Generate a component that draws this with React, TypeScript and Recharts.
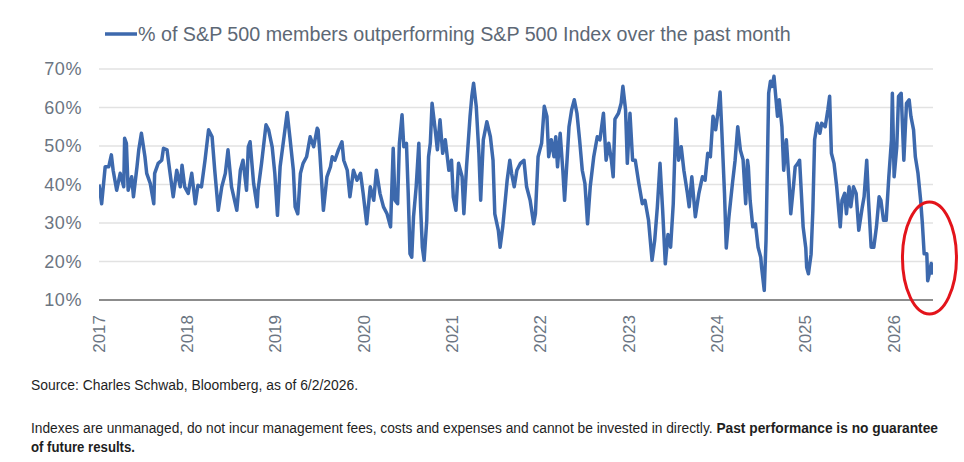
import React from 'react';
import { LineChart, Line, XAxis, YAxis, CartesianGrid, ReferenceDot } from 'recharts';

const SERIES_NAME = '% of S&P 500 members outperforming S&P 500 Index over the past month';
const yTicks = [10, 20, 30, 40, 50, 60, 70];
const xTicks = [2017, 2018, 2019, 2020, 2021, 2022, 2023, 2024, 2025, 2026];
const SOURCE = 'Source: Charles Schwab, Bloomberg, as of 6/2/2026.';
const NOTE = 'Indexes are unmanaged, do not incur management fees, costs and expenses and cannot be invested in directly. ';
const NOTE_BOLD_1 = 'Past performance is no guarantee';
const NOTE_BOLD_2 = 'of future results.';

// decimal-year dates
const dates = [
  2017.00, 2017.03, 2017.07, 2017.11, 2017.14, 2017.16, 2017.20, 2017.24, 2017.28, 2017.29, 2017.31, 2017.33, 2017.37, 2017.39,
  2017.43, 2017.45, 2017.48, 2017.52, 2017.54, 2017.58, 2017.62, 2017.63, 2017.67, 2017.71, 2017.73, 2017.77, 2017.80, 2017.84,
  2017.88, 2017.92, 2017.94, 2017.97, 2018.01, 2018.05, 2018.09, 2018.12, 2018.16, 2018.20, 2018.24, 2018.28, 2018.31, 2018.35,
  2018.39, 2018.43, 2018.46, 2018.50, 2018.56, 2018.60, 2018.63, 2018.67, 2018.69, 2018.71, 2018.75, 2018.79, 2018.80, 2018.84,
  2018.89, 2018.92, 2018.96, 2018.99, 2019.02, 2019.05, 2019.09, 2019.13, 2019.16, 2019.20, 2019.22, 2019.25, 2019.28, 2019.31,
  2019.35, 2019.39, 2019.43, 2019.47, 2019.48, 2019.50, 2019.54, 2019.58, 2019.62, 2019.64, 2019.67, 2019.71, 2019.75, 2019.77,
  2019.81, 2019.84, 2019.88, 2019.92, 2019.96, 2019.99, 2020.03, 2020.07, 2020.11, 2020.14, 2020.18, 2020.22, 2020.26, 2020.30,
  2020.33, 2020.35, 2020.38, 2020.40, 2020.43, 2020.45, 2020.48, 2020.50, 2020.52, 2020.54, 2020.56, 2020.59, 2020.62, 2020.64,
  2020.66, 2020.68, 2020.71, 2020.73, 2020.75, 2020.77, 2020.81, 2020.83, 2020.86, 2020.89, 2020.92, 2020.96, 2020.99, 2021.01,
  2021.04, 2021.07, 2021.11, 2021.13, 2021.16, 2021.20, 2021.22, 2021.24, 2021.27, 2021.30, 2021.32, 2021.35, 2021.39, 2021.43,
  2021.46, 2021.48, 2021.52, 2021.54, 2021.57, 2021.62, 2021.65, 2021.67, 2021.70, 2021.73, 2021.77, 2021.81, 2021.84, 2021.88,
  2021.92, 2021.94, 2021.97, 2021.99, 2022.01, 2022.04, 2022.07, 2022.09, 2022.12, 2022.15, 2022.17, 2022.19, 2022.22, 2022.25,
  2022.27, 2022.30, 2022.32, 2022.35, 2022.38, 2022.41, 2022.44, 2022.47, 2022.50, 2022.53, 2022.56, 2022.60, 2022.64, 2022.67,
  2022.71, 2022.74, 2022.77, 2022.80, 2022.82, 2022.84, 2022.88, 2022.91, 2022.93, 2022.96, 2022.98, 2023.01, 2023.04, 2023.07,
  2023.11, 2023.15, 2023.18, 2023.22, 2023.26, 2023.29, 2023.32, 2023.35, 2023.38, 2023.41, 2023.44, 2023.47, 2023.50, 2023.53,
  2023.56, 2023.59, 2023.62, 2023.66, 2023.68, 2023.71, 2023.75, 2023.79, 2023.83, 2023.86, 2023.89, 2023.92, 2023.95, 2023.98,
  2024.01, 2024.03, 2024.05, 2024.08, 2024.10, 2024.13, 2024.17, 2024.20, 2024.23, 2024.26, 2024.29, 2024.32, 2024.34, 2024.35,
  2024.37, 2024.40, 2024.43, 2024.46, 2024.49, 2024.50, 2024.53, 2024.55, 2024.57, 2024.58, 2024.60, 2024.62, 2024.64, 2024.66,
  2024.68, 2024.70, 2024.73, 2024.75, 2024.78, 2024.81, 2024.83, 2024.86, 2024.88, 2024.91, 2024.93, 2024.95, 2024.97, 2025.00,
  2025.01, 2025.03, 2025.06, 2025.08, 2025.10, 2025.13, 2025.16, 2025.18, 2025.22, 2025.25, 2025.27, 2025.29, 2025.32, 2025.35,
  2025.39, 2025.41, 2025.44, 2025.46, 2025.49, 2025.51, 2025.54, 2025.57, 2025.60, 2025.64, 2025.66, 2025.69, 2025.71, 2025.74,
  2025.77, 2025.80, 2025.83, 2025.85, 2025.88, 2025.91, 2025.94, 2025.97, 2025.98, 2026.00, 2026.03, 2026.05, 2026.08, 2026.11,
  2026.14, 2026.17, 2026.19, 2026.22, 2026.24, 2026.27, 2026.30, 2026.32, 2026.34, 2026.37, 2026.38, 2026.40, 2026.42, 2026.43,
  2026.44,
];

// % of members outperforming
const values = [
  40.0, 35.0, 44.6, 44.6, 47.7, 43.7, 38.5, 42.9, 39.4, 52.0, 50.7, 38.5, 42.0, 36.8,
  44.6, 49.0, 53.3, 47.2, 42.9, 40.3, 35.0, 42.9, 45.5, 46.3, 49.4, 49.0, 43.7, 36.8,
  43.7, 39.4, 45.0, 39.4, 37.7, 42.9, 35.0, 39.8, 39.4, 46.3, 54.2, 52.4, 43.7, 33.3,
  39.4, 42.9, 49.0, 39.4, 33.3, 43.7, 46.3, 38.5, 49.8, 51.1, 40.3, 34.2, 38.5, 45.5,
  55.5, 54.2, 49.8, 42.9, 32.0, 44.6, 51.6, 58.7, 52.4, 43.7, 34.2, 32.4, 42.9, 45.5,
  47.2, 52.4, 49.8, 54.6, 54.2, 48.1, 33.3, 42.0, 44.6, 47.2, 46.3, 49.0, 51.1, 46.3,
  43.7, 36.8, 43.7, 41.1, 42.9, 37.7, 29.8, 39.4, 35.9, 43.7, 37.7, 34.2, 32.4, 29.0,
  49.4, 35.9, 35.0, 50.7, 58.1, 49.8, 50.7, 37.7, 22.0, 21.1, 31.6, 39.4, 50.7, 34.2,
  23.7, 20.3, 30.7, 47.2, 50.7, 61.1, 53.3, 49.0, 56.8, 48.1, 51.6, 43.7, 46.3, 36.8,
  33.3, 45.5, 42.0, 32.4, 44.6, 57.7, 62.9, 66.3, 60.3, 48.1, 35.9, 51.6, 56.3, 52.4,
  46.3, 32.4, 28.1, 23.7, 29.0, 41.1, 46.3, 42.9, 39.4, 43.7, 45.5, 46.3, 39.4, 35.9,
  29.8, 32.4, 47.2, 49.0, 50.7, 60.3, 57.7, 47.2, 51.6, 47.2, 52.4, 44.6, 53.3, 43.7,
  35.9, 47.2, 55.0, 59.4, 62.0, 58.5, 51.6, 43.7, 40.3, 29.8, 39.4, 47.2, 52.4, 51.6,
  58.5, 46.3, 50.7, 46.3, 42.0, 57.0, 58.5, 61.1, 65.5, 59.4, 45.5, 58.5, 46.3, 46.3,
  40.3, 35.0, 35.9, 30.7, 20.3, 25.5, 34.2, 45.5, 33.3, 19.4, 27.0, 23.7, 35.0, 57.0,
  46.3, 49.8, 43.7, 37.7, 34.2, 42.0, 31.6, 37.7, 42.0, 41.1, 48.1, 47.2, 57.7, 54.2,
  59.4, 64.0, 53.7, 37.7, 23.5, 31.6, 40.3, 46.3, 55.0, 48.9, 46.5, 35.0, 46.3, 44.6,
  35.9, 29.0, 29.8, 23.7, 21.1, 18.5, 12.5, 25.5, 51.1, 63.7, 66.8, 65.5, 68.1, 62.9,
  57.7, 62.0, 55.0, 43.7, 51.6, 41.1, 32.4, 39.4, 44.6, 45.5, 46.3, 37.7, 29.0, 23.5,
  18.5, 16.8, 21.9, 33.3, 51.6, 55.9, 53.3, 55.9, 55.0, 59.4, 62.9, 48.1, 45.5, 39.4,
  29.0, 35.9, 37.7, 32.4, 39.4, 34.2, 39.4, 37.7, 28.1, 34.2, 36.8, 46.3, 35.9, 23.7,
  23.7, 29.0, 36.8, 35.9, 30.7, 30.7, 42.0, 51.6, 63.7, 42.0, 49.8, 62.9, 63.7, 46.3,
  61.1, 62.0, 57.7, 54.2, 47.2, 42.9, 35.9, 29.8, 22.0, 22.0, 15.0, 17.0, 19.5, 17.0,
  19.5,
];

const data = dates.map((d, i) => ({ date: d, value: values[i] }));

const BLUE = '#3d69ad';
const AXIS_TEXT = '#6b7582';
const FONT = '"Liberation Sans", Arial, sans-serif';

const YearTick = (props: any) => {
  const { x, y, payload } = props;
  return (
    <g transform={`translate(${x},${y})`}>
      <text
        transform="rotate(-90)"
        x={-7}
        y={0}
        textAnchor="end"
        dominantBaseline="central"
        fill={AXIS_TEXT}
        fontSize={17}
        fontFamily={FONT}
      >
        {payload.value}
      </text>
    </g>
  );
};

const Ellipse = (props: any) => {
  const { cx, cy } = props;
  return <ellipse cx={cx} cy={cy} rx={27} ry={56} fill="none" stroke="#e3141b" strokeWidth={3} />;
};

export default function App() {
  return (
    <div style={{ position: 'absolute', left: 0, top: 0, width: 964, height: 462, background: '#fff' }}>
      <div
        style={{
          position: 'absolute',
          left: 105,
          top: 23,
          display: 'flex',
          alignItems: 'center',
          fontFamily: FONT,
          fontSize: 19.7,
          color: '#5d6875',
          whiteSpace: 'nowrap',
          lineHeight: '22px',
        }}
      >
        <svg width={32} height={10} style={{ marginRight: 1 }}>
          <line x1={0} y1={5} x2={32} y2={5} stroke={BLUE} strokeWidth={3.5} />
        </svg>
        <span>{SERIES_NAME}</span>
      </div>
      <LineChart width={964} height={360} data={data} margin={{ top: 69, right: 31, left: 0, bottom: 0 }}>
        <CartesianGrid horizontal vertical={false} stroke="#e2e2e2" strokeWidth={1.5} />
        <XAxis
          dataKey="date"
          type="number"
          domain={[2017, 2026.44]}
          ticks={xTicks}
          interval={0}
          tick={<YearTick />}
          tickLine={false}
          axisLine={{ stroke: '#8c8c8c', strokeWidth: 2 }}
          height={60}
          allowDataOverflow
        />
        <YAxis
          domain={[10, 70]}
          ticks={yTicks}
          interval={0}
          width={99}
          tickFormatter={(v: number) => `${v}%`}
          tick={{ fill: AXIS_TEXT, fontSize: 18, fontFamily: FONT, letterSpacing: 0.6 }}
          tickLine={false}
          axisLine={false}
          tickMargin={11}
        />
        <Line
          type="linear"
          dataKey="value"
          name={SERIES_NAME}
          stroke={BLUE}
          strokeWidth={3.5}
          strokeLinejoin="round"
          dot={false}
          isAnimationActive={false}
        />
        <ReferenceDot x={2026.40} y={20.9} ifOverflow="visible" shape={<Ellipse />} />
      </LineChart>
      <svg width={964} height={100} style={{ position: 'absolute', left: 0, top: 362 }}>
        <g fontFamily={FONT} fontSize={14} fill="#1e1e1e">
          <text x={31} y={28} textLength={327} lengthAdjust="spacingAndGlyphs">{SOURCE}</text>
          <text x={31} y={71} textLength={907} lengthAdjust="spacingAndGlyphs">
            {NOTE}
            <tspan fontWeight="bold">{NOTE_BOLD_1}</tspan>
          </text>
          <text x={31} y={90} fontWeight="bold" textLength={104} lengthAdjust="spacingAndGlyphs">{NOTE_BOLD_2}</text>
        </g>
      </svg>
    </div>
  );
}
